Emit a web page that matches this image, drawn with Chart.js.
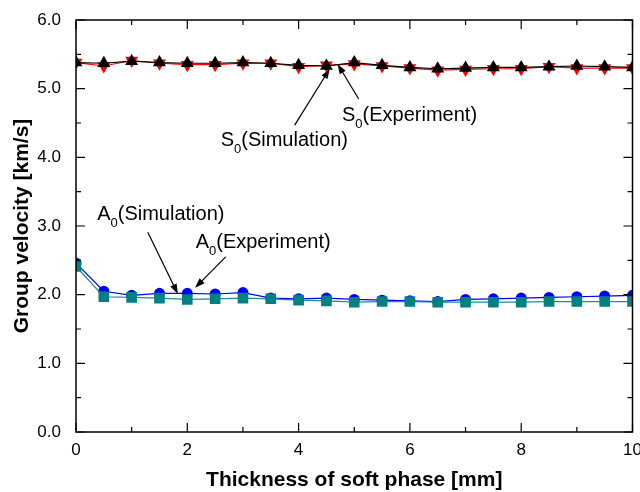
<!DOCTYPE html>
<html><head><meta charset="utf-8">
<script src="https://cdn.jsdelivr.net/npm/chart.js@4/dist/chart.umd.min.js"></script>
<style>html,body{margin:0;padding:0;background:#fff;overflow:hidden}</style>
</head><body><canvas id="c" width="640" height="492"></canvas>
<script>
// ---- data ----
const thickness = [0,0.5,1,1.5,2,2.5,3,3.5,4,4.5,5,5.5,6,6.5,7,7.5,8,8.5,9,9.5,10];
const s0Simulation = [5.38,5.37,5.40,5.38,5.37,5.37,5.38,5.37,5.34,5.33,5.38,5.34,5.31,5.29,5.30,5.31,5.31,5.32,5.33,5.32,5.31];
const s0Experiment = [5.38,5.33,5.41,5.37,5.35,5.35,5.37,5.37,5.32,5.34,5.36,5.33,5.30,5.27,5.28,5.29,5.29,5.32,5.30,5.30,5.30];
const a0Experiment = [2.46,2.05,1.99,2.02,2.02,2.01,2.03,1.95,1.94,1.95,1.93,1.92,1.91,1.90,1.93,1.94,1.95,1.96,1.97,1.98,1.99];
const a0Simulation = [2.41,1.97,1.96,1.95,1.93,1.94,1.95,1.94,1.92,1.91,1.89,1.90,1.90,1.89,1.89,1.89,1.89,1.90,1.90,1.90,1.90];
const xTickLabels = [0,2,4,6,8,10];
const xMinorTicks = [1,3,5,7,9];
const yTickLabels = [0,1,2,3,4,5,6];
const yMinorTicks = [0.5,1.5,2.5,3.5,4.5,5.5];
const xTitle = 'Thickness of soft phase [mm]';
const yTitle = 'Group velocity [km/s]';

// annotations (text anchored in data coordinates: left, baseline)
const notes = [
  {main:'S', sub:'0', rest:'(Simulation)', x:2.60, y:4.165, from:[3.93,4.47], to:[4.56,5.29]},
  {main:'S', sub:'0', rest:'(Experiment)', x:4.78, y:4.533, from:[5.08,4.85], to:[4.70,5.36]},
  {main:'A', sub:'0', rest:'(Simulation)', x:0.38, y:3.087, from:[1.29,2.91], to:[1.83,2.01]},
  {main:'A', sub:'0', rest:'(Experiment)', x:2.15, y:2.675, from:[2.69,2.55], to:[2.14,2.10]}
];

const FONT = "'Liberation Sans', Arial, sans-serif";
const pts = arr => thickness.map((t,i)=>({x:t, y:arr[i]}));

const framePlugin = {
  id:'frame',
  afterDatasetsDraw(chart){
    const {ctx, chartArea:{left,right,top,bottom}, scales:{x,y}} = chart;
    ctx.save();
    ctx.strokeStyle = '#000';
    ctx.lineWidth = 1.5;
    ctx.strokeRect(left, top, right-left, bottom-top);
    ctx.lineWidth = 1.2;
    ctx.beginPath();
    const xt = (v,len)=>{ const p = x.getPixelForValue(v); ctx.moveTo(p,bottom); ctx.lineTo(p,bottom-len); ctx.moveTo(p,top); ctx.lineTo(p,top+len); };
    const yt = (v,len)=>{ const p = y.getPixelForValue(v); ctx.moveTo(left,p); ctx.lineTo(left+len,p); ctx.moveTo(right,p); ctx.lineTo(right-len,p); };
    xTickLabels.forEach(v=>xt(v,9)); xMinorTicks.forEach(v=>xt(v,5));
    yTickLabels.forEach(v=>yt(v,9)); yMinorTicks.forEach(v=>yt(v,5));
    ctx.stroke();

    // annotations
    ctx.fillStyle = '#000';
    ctx.textBaseline = 'alphabetic';
    ctx.textAlign = 'left';
    notes.forEach(n=>{
      let px = x.getPixelForValue(n.x), py = y.getPixelForValue(n.y);
      ctx.font = '20px ' + FONT;
      ctx.fillText(n.main, px, py); px += ctx.measureText(n.main).width;
      ctx.font = '13px ' + FONT;
      ctx.fillText(n.sub, px, py + 7); px += ctx.measureText(n.sub).width;
      ctx.font = '20px ' + FONT;
      ctx.fillText(n.rest, px, py);
      const x1 = x.getPixelForValue(n.from[0]), y1 = y.getPixelForValue(n.from[1]);
      const x2 = x.getPixelForValue(n.to[0]), y2 = y.getPixelForValue(n.to[1]);
      const ang = Math.atan2(y2-y1, x2-x1);
      const hl = 10, hw = 3.5;
      ctx.lineWidth = 1.2;
      ctx.beginPath();
      ctx.moveTo(x1,y1);
      ctx.lineTo(x2 - hl*Math.cos(ang)*0.8, y2 - hl*Math.sin(ang)*0.8);
      ctx.stroke();
      ctx.beginPath();
      ctx.moveTo(x2,y2);
      ctx.lineTo(x2 - hl*Math.cos(ang) + hw*Math.sin(ang), y2 - hl*Math.sin(ang) - hw*Math.cos(ang));
      ctx.lineTo(x2 - hl*Math.cos(ang) - hw*Math.sin(ang), y2 - hl*Math.sin(ang) + hw*Math.cos(ang));
      ctx.closePath();
      ctx.fill();
    });
    ctx.restore();
  }
};

const ds = (label, arr, color, lineColor, style, r, rot) => ({
  label, data: pts(arr), borderColor: lineColor, backgroundColor: color,
  pointBackgroundColor: color, pointBorderColor: color, pointBorderWidth: 0,
  pointStyle: style, pointRadius: r, pointRotation: rot||0, borderWidth: 1.2,
  tension: 0, clip: 0
});

new Chart(document.getElementById('c'), {
  type: 'line',
  data: { datasets: [
    ds('S0(Simulation)', s0Simulation, '#000000', '#000000', 'triangle', 7.5, 0),
    ds('S0(Experiment)', s0Experiment, '#ff0000', '#ff0000', 'triangle', 7.5, 180),
    ds('A0(Simulation)', a0Simulation, '#008080', '#1a9090', 'rect', 7.5, 0),
    ds('A0(Experiment)', a0Experiment, '#0000ff', '#0000ff', 'circle', 5.5, 0)
  ]},
  options: {
    responsive: false, animation: false,
    layout: { padding: { top: 20, right: 7, left: 0, bottom: 0 } },
    plugins: { legend: { display: false }, tooltip: { enabled: false } },
    scales: {
      x: {
        type: 'linear', min: 0, max: 10,
        afterBuildTicks: s => { s.ticks = xTickLabels.map(v=>({value:v})); },
        grid: { display: false }, border: { display: false },
        ticks: { font: { family: FONT, size: 17 }, color: '#000', padding: 0, maxRotation: 0, autoSkip: false },
        title: { display: true, text: xTitle, color: '#000', font: { family: FONT, size: 21, weight: 'bold', lineHeight: 1.1 }, padding: { top: 0, bottom: 0 } },
        afterFit: s => { s.height = 60; s.paddingLeft = 0; s.paddingRight = 0; }
      },
      y: {
        type: 'linear', min: 0, max: 6,
        afterBuildTicks: s => { s.ticks = yTickLabels.map(v=>({value:v})); },
        grid: { display: false }, border: { display: false },
        ticks: { font: { family: FONT, size: 17 }, color: '#000', padding: 7, callback: v => Number(v).toFixed(1) },
        title: { display: true, text: yTitle, color: '#000', font: { family: FONT, size: 21, weight: 'bold' }, padding: { top: 10, bottom: 0 } },
        afterFit: s => { s.width = 76; s.paddingTop = 0; s.paddingBottom = 0; }
      }
    }
  },
  plugins: [framePlugin]
});
</script></body></html>
